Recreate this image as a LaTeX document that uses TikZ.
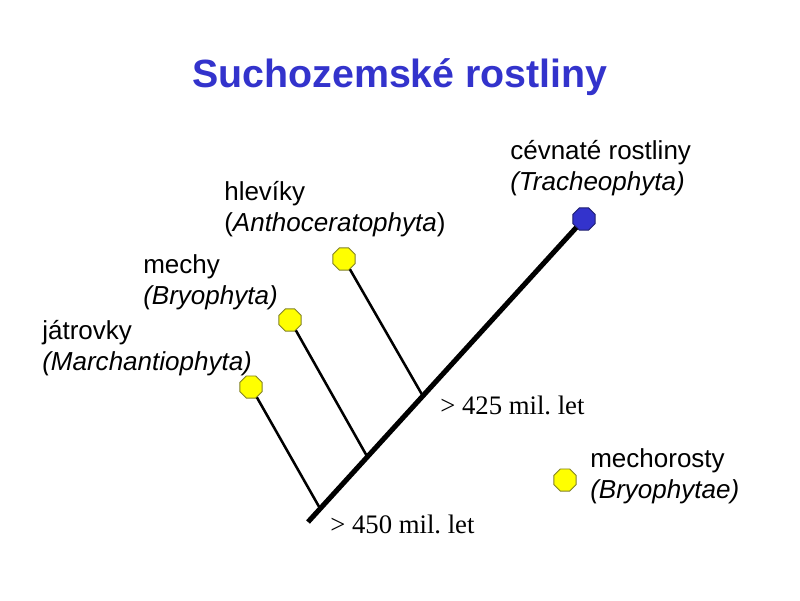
\documentclass[tikz,border=0pt]{standalone}
\usepackage{fontspec}
\setmainfont{Liberation Sans}
\newfontfamily\timesfont{Liberation Serif}
\usepackage{xcolor}
\usetikzlibrary{shapes.geometric}
\usetikzlibrary{calc}
\frenchspacing

\definecolor{titleblue}{RGB}{51,51,204}
\definecolor{leafyellow}{RGB}{255,255,0}
\definecolor{leafrim}{RGB}{128,128,40}
\definecolor{tipblue}{RGB}{51,51,204}
\definecolor{tiprim}{RGB}{30,30,110}

\tikzset{
  leaf/.style={regular polygon,regular polygon sides=8,minimum size=0.6cm,inner sep=0pt,fill=leafyellow,draw=leafrim,line width=0.6pt},
  tipleaf/.style={leaf,fill=tipblue,draw=tiprim},
  taxon/.style={anchor=west,align=left,inner sep=0pt,font=\fontsize{18.5}{22}\selectfont},
  age/.style={anchor=west,inner sep=0pt,font=\timesfont\fontsize{19}{22}\selectfont},
  branch/.style={line width=1.8pt},
  stem/.style={line width=3.6pt}
}

\begin{document}
\begin{tikzpicture}[x=0.025cm,y=-0.025cm]
\useasboundingbox (0,0) rectangle (800,600);
\node[font=\bfseries\fontsize{28}{32}\selectfont,text=titleblue] (title) at (400,77) {Suchozemské rostliny};

\coordinate (root) at (308,522);
\node[tipleaf] (trach) at (584,219) {};
\node[leaf] (march) at (251,387) {};
\node[leaf] (bryo) at (290,320) {};
\node[leaf] (antho) at (344,259) {};
\node[leaf] (mechor) at (565,480) {};

\coordinate (bm) at ($(root)!0.044!(trach)$);
\coordinate (bb) at ($(root)!0.215!(trach)$);
\coordinate (ba) at ($(root)!0.416!(trach)$);

\draw[branch] (march) -- (bm);
\draw[branch] (bryo) -- (bb);
\draw[branch] (antho) -- (ba);
\draw[stem] (root) -- (trach);

\node[taxon] (tlab) at (510,168) {cévnaté rostliny\\\textit{(Tracheophyta)}};
\node[taxon] (alab) at (224,209) {hlevíky\\(\textit{Anthoceratophyta})};
\node[taxon] (blab) at (143,282) {mechy\\\textit{(Bryophyta)}};
\node[taxon] (mlab) at (42,348) {játrovky\\\textit{(Marchantiophyta)}};
\node[taxon] (mrlab) at (590,476) {mechorosty\\\textit{(Bryophytae)}};

\node[age] (age425) at (440,405) {> 425 mil. let};
\node[age] (age450) at (330,524) {> 450 mil. let};
\end{tikzpicture}
\end{document}
